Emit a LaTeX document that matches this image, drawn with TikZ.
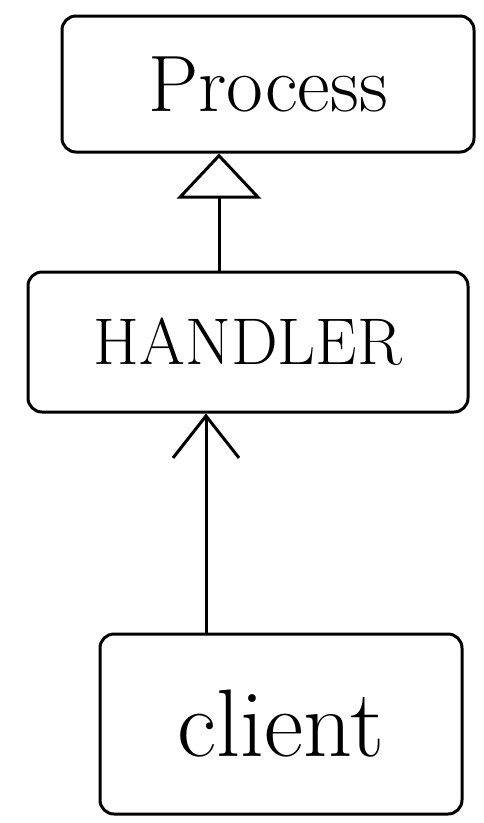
\documentclass[tikz,border=0pt]{standalone}
\usepackage{fontspec}
\usetikzlibrary{arrows.meta,positioning}
\tikzset{
  sketchbox/.style={draw=black, line width=3pt, rounded corners=14pt, fill=white, align=center, inner sep=0pt},
  inherit/.style={-{Triangle[open, length=45pt, width=84pt, line width=3pt]}, line width=3pt, line cap=round},
  uses/.style={-{Straight Barb[length=42pt, width=66pt, line width=3pt]}, line width=3pt, line cap=round}
}

\begin{document}
\begin{tikzpicture}[x=1pt,y=-1pt]
  \useasboundingbox (0,0) rectangle (484,823);
  \node[sketchbox, minimum width=412pt, minimum height=136pt, font=\fontsize{80}{90}\selectfont] (process) at (268,84) {Process};
  \node[sketchbox, minimum width=440pt, minimum height=140pt, font=\fontsize{66}{72}\selectfont] (handler) at (248,342) {HANDLER};
  \node[sketchbox, minimum width=362pt, minimum height=180pt, font=\fontsize{96}{100}\selectfont] (client) at (281,724) {client};
  \draw[inherit] (handler.north -| 219,0) -- (process.south -| 219,0);
  \draw[uses] (client.north -| 206,0) -- (handler.south -| 206,0);
\end{tikzpicture}
\end{document}
